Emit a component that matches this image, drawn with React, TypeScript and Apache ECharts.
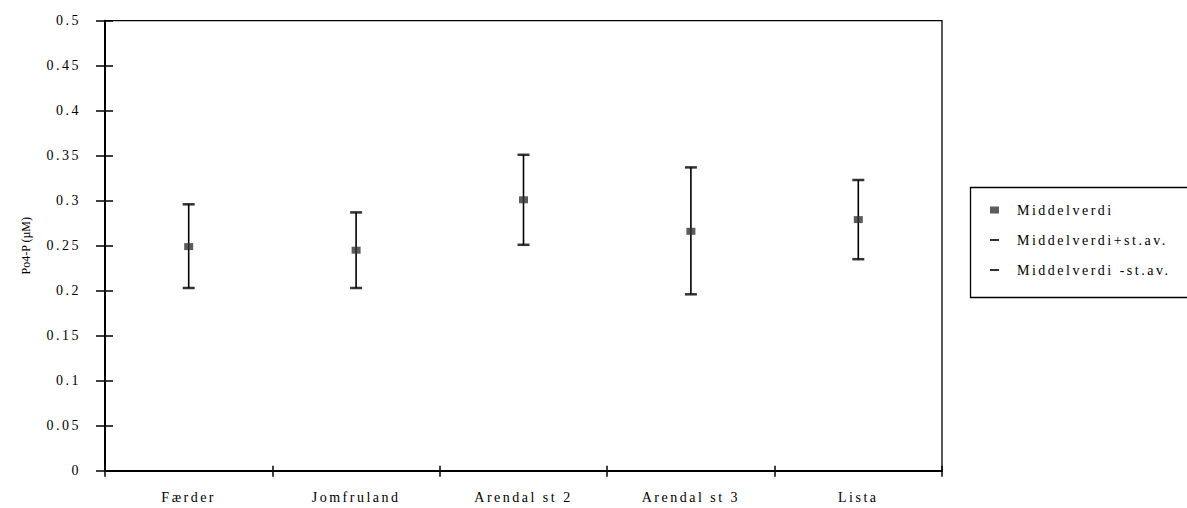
import React, { useEffect, useRef } from "react";
import * as echarts from "echarts";

const categories = ["Færder", "Jomfruland", "Arendal st 2", "Arendal st 3", "Lista"];
const meanValues = [0.249, 0.245, 0.301, 0.266, 0.279];
const upperValues = [0.296, 0.287, 0.351, 0.337, 0.323];
const lowerValues = [0.203, 0.203, 0.251, 0.196, 0.235];
const seriesNames = ["Middelverdi", "Middelverdi+st.av.", "Middelverdi -st.av."];
const yTicks = { min: 0, max: 0.5, interval: 0.05 };
const yTitle = "Po4-P (µM)";

const FONT = "'Liberation Serif', 'Times New Roman', serif";

export default function App() {
  const ref = useRef<HTMLDivElement>(null);
  useEffect(() => {
    if (!ref.current) return;
    const chart = echarts.init(ref.current, null, { renderer: "svg" });
    const squarePath = "path://M0 0 H9 V7 H0 Z";
    const dashPath = "path://M0 0 H9 V2 H0 Z";
    chart.setOption({
      animation: false,
      backgroundColor: "#ffffff",
      textStyle: { fontFamily: FONT, color: "#000" },
      grid: {
        left: 105,
        right: 245,
        top: 20.7,
        bottom: 37.3,
        show: true,
        borderColor: "#000",
        borderWidth: 1.3,
        backgroundColor: "transparent",
      },
      legend: {
        orient: "vertical",
        left: 985,
        top: 198,
        itemWidth: 9,
        itemHeight: 7,
        itemGap: 16,
        symbolKeepAspect: true,
        textStyle: { fontFamily: FONT, fontSize: 14, color: "#000", padding: [0, 0, 0, 13] },
        data: [
          { name: seriesNames[0], icon: squarePath, itemStyle: { color: "#333" } },
          { name: seriesNames[1], icon: dashPath, itemStyle: { color: "#000" } },
          { name: seriesNames[2], icon: dashPath, itemStyle: { color: "#000" } },
        ],
      },
      graphic: [
        {
          type: "rect",
          left: 968,
          top: 185,
          shape: { width: 240, height: 110 },
          style: { fill: "none", stroke: "#000", lineWidth: 1.3 },
          silent: true,
        },
      ],
      xAxis: [
        {
          type: "category",
          data: categories,
          position: "bottom",
          axisLine: { lineStyle: { color: "#000", width: 2 } },
          axisTick: { show: true, length: 6, lineStyle: { color: "#000", width: 1.5 } },
          axisLabel: { color: "#000", fontFamily: FONT, fontSize: 14, margin: 20 },
          splitLine: { show: false },
        },
        {
          type: "category",
          data: categories,
          position: "bottom",
          axisLine: { show: false },
          axisTick: { show: true, inside: true, length: 5, lineStyle: { color: "#000", width: 1.5 } },
          axisLabel: { show: false },
          splitLine: { show: false },
        },
      ],
      yAxis: [
        {
          type: "value",
          min: yTicks.min,
          max: yTicks.max,
          interval: yTicks.interval,
          position: "left",
          name: yTitle,
          nameLocation: "middle",
          nameGap: 73,
          nameTextStyle: { fontFamily: FONT, fontSize: 12, color: "#000" },
          axisLine: { show: true, lineStyle: { color: "#000", width: 2 } },
          axisTick: { show: true, length: 9, lineStyle: { color: "#000", width: 1.5 } },
          axisLabel: { color: "#000", fontFamily: FONT, fontSize: 14, margin: 24 },
          splitLine: { show: false },
        },
        {
          type: "value",
          min: yTicks.min,
          max: yTicks.max,
          interval: yTicks.interval,
          position: "left",
          axisLine: { show: false },
          axisTick: { show: true, inside: true, length: 8, lineStyle: { color: "#000", width: 1.5 } },
          axisLabel: { show: false },
          splitLine: { show: false },
        },
      ],
      series: [
        {
          type: "custom",
          name: "errorbar",
          z: 1,
          renderItem: (params: any, api: any) => {
            const x = api.value(0);
            const p1 = api.coord([x, api.value(1)]);
            const p2 = api.coord([x, api.value(2)]);
            return {
              type: "line",
              shape: { x1: p1[0], y1: p1[1], x2: p2[0], y2: p2[1] },
              style: { stroke: "#000", lineWidth: 1.6 },
            };
          },
          data: categories.map((_, i) => [i, lowerValues[i], upperValues[i]]),
          silent: true,
        },
        {
          type: "scatter",
          name: seriesNames[0],
          z: 3,
          symbol: "rect",
          symbolSize: [9, 7],
          itemStyle: { color: "#333" },
          data: meanValues,
        },
        {
          type: "scatter",
          name: seriesNames[1],
          z: 2,
          symbol: "rect",
          symbolSize: [12, 2.5],
          itemStyle: { color: "#000" },
          data: upperValues,
        },
        {
          type: "scatter",
          name: seriesNames[2],
          z: 2,
          symbol: "rect",
          symbolSize: [12, 2.5],
          itemStyle: { color: "#000" },
          data: lowerValues,
        },
      ],
    });
    return () => chart.dispose();
  }, []);
  return (
    <>
      <style>{".chart-box svg text { letter-spacing: 2.5px; } .chart-box svg text[style*='12px'] { letter-spacing: 0; }"}</style>
      <div
        ref={ref}
        className="chart-box"
        style={{ position: "absolute", left: 0, top: 0, width: 1187, height: 508, background: "#fff" }}
      />
    </>
  );
}
